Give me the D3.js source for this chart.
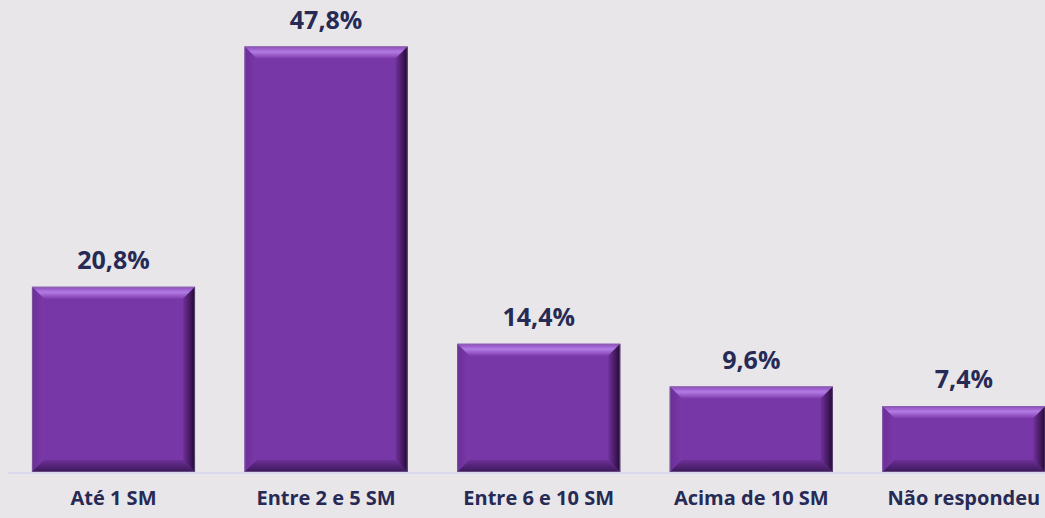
<!DOCTYPE html>
<html>
<head>
<meta charset="utf-8">
<script src="https://cdn.jsdelivr.net/npm/d3@7"></script>
<style>
  body { margin: 0; background: #e8e6e9; }
  svg { display: block; }
</style>
</head>
<body>
<svg id="chart" width="1045" height="518"></svg>
<script>
// data
const categories = ["Até 1 SM", "Entre 2 e 5 SM", "Entre 6 e 10 SM", "Acima de 10 SM", "Não respondeu"];
const values = [20.8, 47.8, 14.4, 9.6, 7.4];
const valueLabels = ["20,8%", "47,8%", "14,4%", "9,6%", "7,4%"];

const svg = d3.select("#chart"),
  width = +svg.attr("width"),
  height = +svg.attr("height");

const baseline = 472;

const x = d3
  .scaleBand()
  .domain(categories)
  .range([7.2, 1070.2])
  .paddingInner(0.233)
  .paddingOuter(0.1165);

const y = d3
  .scaleLinear()
  .domain([0, 47.8])
  .range([baseline, 46.5]);

const defs = svg.append("defs");

function grad(id, x2, y2, stops) {
  const g = defs
    .append("linearGradient")
    .attr("id", id)
    .attr("x1", 0).attr("y1", 0)
    .attr("x2", x2).attr("y2", y2);
  stops.forEach((s) => {
    g.append("stop").attr("offset", s[0]).attr("stop-color", s[1]);
  });
}
grad("gTop", 0, 1, [[0, "#8c49bb"], [0.45, "#b27be3"], [1, "#7f3cad"]]);
grad("gLeft", 1, 0, [[0, "#6b2e98"], [1, "#7a39a8"]]);
grad("gRight", 1, 0, [[0, "#6e3199"], [0.6, "#44195f"], [1, "#1e0a30"]]);
grad("gBottom", 0, 1, [[0, "#6c3097"], [1, "#3b1758"]]);

// axis line
svg
  .append("line")
  .attr("x1", 8)
  .attr("x2", width)
  .attr("y1", baseline + 1)
  .attr("y2", baseline + 1)
  .attr("stroke", "#d5d3ee")
  .attr("stroke-width", 1.5);

const bev = 12;

const bars = svg
  .selectAll(".bar")
  .data(values)
  .enter()
  .append("g")
  .attr("class", "bar");

bars.each(function (d, i) {
  const g = d3.select(this);
  const x0 = x(categories[i]),
    x1 = x0 + x.bandwidth(),
    y0 = y(d),
    y1 = y(0);
  const b = Math.min(bev, (y1 - y0) / 3);
  const poly = (pts, fill) =>
    g.append("polygon").attr("points", pts.map((p) => p.join(",")).join(" ")).attr("fill", fill);

  g.append("rect")
    .attr("x", x0)
    .attr("y", y0)
    .attr("width", x1 - x0)
    .attr("height", y1 - y0)
    .attr("fill", "#7837a6");
  poly([[x0, y0], [x1, y0], [x1 - b, y0 + b], [x0 + b, y0 + b]], "url(#gTop)");
  poly([[x0, y0], [x0 + b, y0 + b], [x0 + b, y1 - b], [x0, y1]], "url(#gLeft)");
  poly([[x1, y0], [x1, y1], [x1 - b, y1 - b], [x1 - b, y0 + b]], "url(#gRight)");
  poly([[x0, y1], [x0 + b, y1 - b], [x1 - b, y1 - b], [x1, y1]], "url(#gBottom)");
  g.append("rect")
    .attr("x", x0 + 0.5)
    .attr("y", y0 + 0.5)
    .attr("width", x1 - x0 - 1)
    .attr("height", y1 - y0 - 1)
    .attr("fill", "none")
    .attr("stroke", "#8a7a9e")
    .attr("stroke-opacity", 0.5);
});

// value labels
svg
  .selectAll(".val")
  .data(values)
  .enter()
  .append("text")
  .attr("class", "val")
  .attr("x", (d, i) => x(categories[i]) + x.bandwidth() / 2)
  .attr("y", (d) => y(d) - 18)
  .attr("text-anchor", "middle")
  .attr("font-family", "'Open Sans', Lato, sans-serif")
  .attr("font-weight", "bold")
  .attr("font-size", "25px")
  .attr("fill", "#262a55")
  .text((d, i) => valueLabels[i]);

// category labels
svg
  .selectAll(".cat")
  .data(categories)
  .enter()
  .append("text")
  .attr("class", "cat")
  .attr("x", (d) => x(d) + x.bandwidth() / 2)
  .attr("y", 505)
  .attr("text-anchor", "middle")
  .attr("font-family", "'Open Sans', Lato, sans-serif")
  .attr("font-weight", "bold")
  .attr("font-size", "20px")
  .attr("fill", "#262a55")
  .text((d) => d);
</script>
</body>
</html>
